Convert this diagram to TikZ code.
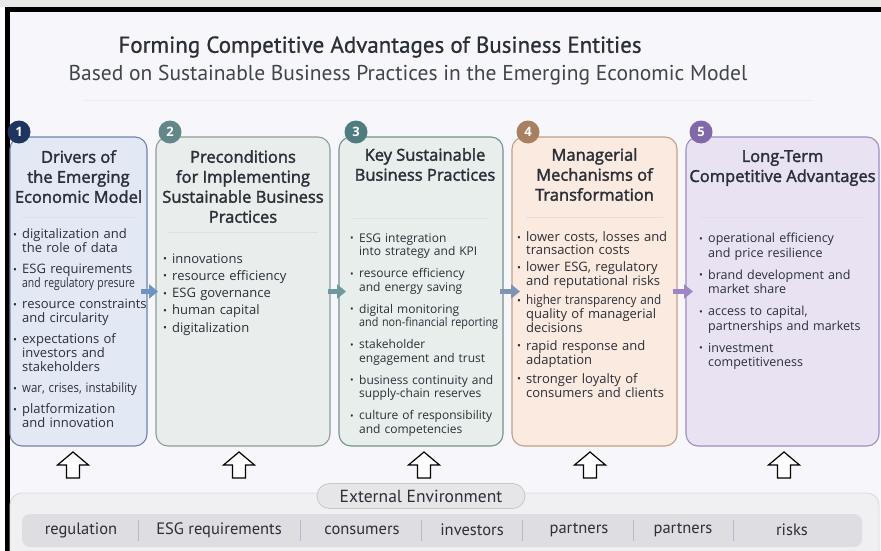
\documentclass[tikz,border=0pt]{standalone}
\usepackage{fontspec}
\usepackage{graphicx}
\setmainfont{Open Sans}
\newfontfamily\headfont{PT Sans}
\newfontfamily\titlefont{PT Sans}[FakeBold=0.8]
\newfontfamily\boxhead{Open Sans}[FakeBold=2]
\usetikzlibrary{arrows.meta,calc}

\definecolor{bgcol}{HTML}{F7F6FA}
\definecolor{ink}{HTML}{2B2F38}
\definecolor{fillA}{HTML}{E3E8F5}\definecolor{lineA}{HTML}{7083AC}\definecolor{dotA}{HTML}{1E3461}
\definecolor{fillB}{HTML}{E9EEEC}\definecolor{lineB}{HTML}{8A9E9A}\definecolor{dotB}{HTML}{628789}
\definecolor{fillC}{HTML}{E8EEEB}\definecolor{lineC}{HTML}{76908C}\definecolor{dotC}{HTML}{4F7C7E}
\definecolor{fillD}{HTML}{FAEADF}\definecolor{lineD}{HTML}{BFA088}\definecolor{dotD}{HTML}{A9805F}
\definecolor{fillE}{HTML}{E9E2F3}\definecolor{lineE}{HTML}{9D8CC2}\definecolor{dotE}{HTML}{7F69A8}
\definecolor{arrAB}{HTML}{6C93C4}\definecolor{arrBC}{HTML}{6F9A9C}
\definecolor{arrCD}{HTML}{7F93B5}\definecolor{arrDE}{HTML}{9E86C6}

\newcommand{\bitem}[1]{\par\hangindent=9pt\hangafter=1\noindent\makebox[9pt][l]{\raisebox{0.4pt}{\scalebox{0.8}{\textbullet}}}#1\par}
\newcommand{\squeeze}[2]{\scalebox{#1}[1]{#2}}

\begin{document}
\begin{tikzpicture}[x=1pt,y=-1pt]
\tikzset{box/.style={rounded corners=12pt, line width=1.1pt, inner sep=0pt, outer sep=0pt, anchor=north west, minimum height=309pt}}
\tikzset{numdot/.style={circle, inner sep=0pt, minimum size=23pt, text=white, font=\fontsize{13}{13}\selectfont\bfseries}}
\tikzset{boxtitle/.style={anchor=north, align=center, inner sep=0pt, text=ink, font=\boxhead\fontsize{16.5}{20}\selectfont}}
\tikzset{pts/.style n args={4}{anchor=north west, inner sep=0pt, text=ink, align=left, text width=#1, font=\fontsize{#2}{#3}\selectfont, execute at begin node={\setlength{\parskip}{#4}}}}
\tikzset{sepline/.style={draw=black!12, line width=0.6pt}}
\tikzset{flow/.style={line width=4.5pt, -{Triangle[length=9pt,width=14pt]}}}
\tikzset{uparrow/.style={draw=black, fill=white, line width=1.2pt, line join=miter}}
\tikzset{envitem/.style={text=ink, font=\headfont\fontsize{16.5}{17}\selectfont, inner sep=0pt}}
\clip (0,0) rectangle (881,551);
\fill[black!9] (0,0) rectangle (881,7);
\fill[white] (0,7) rectangle (5,551);
\fill[black] (5,7) rectangle (881,551);
\fill[bgcol] (10,12) rectangle (881,551);

\node[text=ink, font=\titlefont\fontsize{23}{24}\selectfont] (title) at (380,47) {Forming Competitive Advantages of Business Entities};
\node[text=ink!90, font=\headfont\fontsize{21.5}{22}\selectfont] (subtitle) at (408,75) {Based on Sustainable Business Practices in the Emerging Economic Model};
\draw[draw=black!8, line width=0.6pt] (85,100) -- (812,100);

\node[box, fill=fillA, draw=lineA, minimum width=137pt] (b1) at (10,137) {};
\node[box, fill=fillB, draw=lineB, minimum width=174pt] (b2) at (156,137) {};
\node[box, fill=fillC, draw=lineC, minimum width=164pt] (b3) at (339,137) {};
\node[box, fill=fillD, draw=lineD, minimum width=165pt] (b4) at (512,137) {};
\node[box, fill=fillE, draw=lineE, minimum width=193pt] (b5) at (686,137) {};

\node[numdot, fill=dotA] (n1) at ($(b1.north west)+(9,-5)$) {1};
\node[numdot, fill=dotB] (n2) at ($(b2.north west)+(14,-5)$) {2};
\node[numdot, fill=dotC] (n3) at ($(b3.north west)+(17,-5)$) {3};
\node[numdot, fill=dotD] (n4) at ($(b4.north west)+(16,-5)$) {4};
\node[numdot, fill=dotE] (n5) at ($(b5.north west)+(15,-5)$) {5};

\node[boxtitle] (t1) at ($(b1.north)+(0,13)$) {Drivers of\\the Emerging\\Economic Model};
\node[boxtitle] (t2) at ($(b2.north)+(0,13)$) {Preconditions\\for Implementing\\Sustainable Business\\Practices};
\node[boxtitle] (t3) at ($(b3.north)+(4,11)$) {Key Sustainable\\Business Practices};
\node[boxtitle] (t4) at ($(b4.north)+(0,11)$) {Managerial\\Mechanisms of\\Transformation};
\node[boxtitle] (t5) at ($(b5.north)+(0,13)$) {Long-Term\\Competitive Advantages};

\draw[sepline] ($(b1.north west)+(12,80)$) -- ($(b1.north east)+(-12,80)$);
\draw[sepline] ($(b2.north west)+(12,95)$) -- ($(b2.north east)+(-12,95)$);
\draw[sepline] ($(b3.north west)+(14,81)$) -- ($(b3.north east)+(-14,81)$);
\draw[sepline] ($(b4.north west)+(14,80)$) -- ($(b4.north east)+(-14,80)$);
\draw[sepline] ($(b5.north west)+(14,80)$) -- ($(b5.north east)+(-14,80)$);

\node[pts={160pt}{13}{14}{7pt}] (l1) at (13,217.5) {%
\bitem{digitalization and\newline the role of data}%
\bitem{ESG requirements\newline \squeeze{0.8}{and regulatory presure}}%
\bitem{resource constraints\newline and circularity}%
\bitem{expectations of\newline investors and\newline stakeholders}%
\bitem{\squeeze{0.88}{war, crises, instability}}%
\bitem{platformization\newline and innovation}}; 
\node[pts={170pt}{13}{14}{3.3pt}] (l2) at (163,245.5) {%
\bitem{innovations}%
\bitem{resource efficiency}%
\bitem{ESG governance}%
\bitem{human capital}%
\bitem{digitalization}};
\node[pts={170pt}{12}{13.5}{8.5pt}] (l3) at (350,220) {%
\bitem{ESG integration\newline into strategy and KPI}%
\bitem{resource efficiency\newline and energy saving}%
\bitem{digital monitoring\newline \squeeze{0.9}{and non-financial reporting}}%
\bitem{stakeholder\newline engagement and trust}%
\bitem{business continuity and\newline supply-chain reserves}%
\bitem{culture of responsibility\newline and competencies}};
\node[pts={180pt}{13}{12.5}{5pt}] (l4) at (517,224) {%
\bitem{lower costs, losses and\newline transaction costs}%
\bitem{lower ESG, regulatory\newline and reputational risks}%
\bitem{\squeeze{0.9}{higher transparency and}\newline quality of managerial\newline decisions}%
\bitem{rapid response and\newline adaptation}%
\bitem{stronger loyalty of\newline consumers and clients}};
\node[pts={190pt}{12.5}{14.5}{7.5pt}] (l5) at (699,220.5) {%
\bitem{operational efficiency\newline and price resilience}%
\bitem{brand development and\newline market share}%
\bitem{access to capital,\newline partnerships and markets}%
\bitem{investment\newline competitiveness}};

\draw[flow, arrAB] ([xshift=-6pt]b1.east) -- ([xshift=2pt]b2.west);
\draw[flow, arrBC] ([xshift=-2pt]b2.east) -- ([xshift=7pt]b3.west);
\draw[flow, arrCD] ([xshift=-3pt]b3.east) -- ([xshift=8pt]b4.west);
\draw[flow, arrDE] ([xshift=-4pt]b4.east) -- ([xshift=7pt]b5.west);

\foreach \x in {73,239,424,590,784}
  \draw[uparrow] (\x-6.5,478) -- (\x-6.5,465) -- (\x-15.5,465) -- (\x,452) -- (\x+15.5,465) -- (\x+6.5,465) -- (\x+6.5,478) -- cycle;

\draw[fill=black!3!bgcol, draw=black!14, line width=0.9pt, rounded corners=12pt] (10,493) rectangle (879,580);
\node[fill=black!7!bgcol, draw=black!22, line width=0.8pt, rounded corners=12.5pt, minimum width=208pt, minimum height=25pt, inner sep=0pt, envitem, font=\headfont\fontsize{17.5}{18}\selectfont] (env) at (421,496) {External Environment};
\node[fill=black!10!bgcol, rounded corners=8pt, minimum width=840pt, minimum height=33pt, inner sep=0pt] (bar) at (442,530.5) {};
\foreach \x/\lab in {81/regulation, 219/ESG requirements, 362/consumers, 472/investors, 579/partners, 683/partners, 792/risks}
  \node[envitem] (item\x) at (\x,530) {\lab};
\foreach \x in {138,300,421,522,633,733}
  \draw[draw=lineA!55, line width=0.8pt] (\x,520) -- (\x,541);
\end{tikzpicture}
\end{document}
